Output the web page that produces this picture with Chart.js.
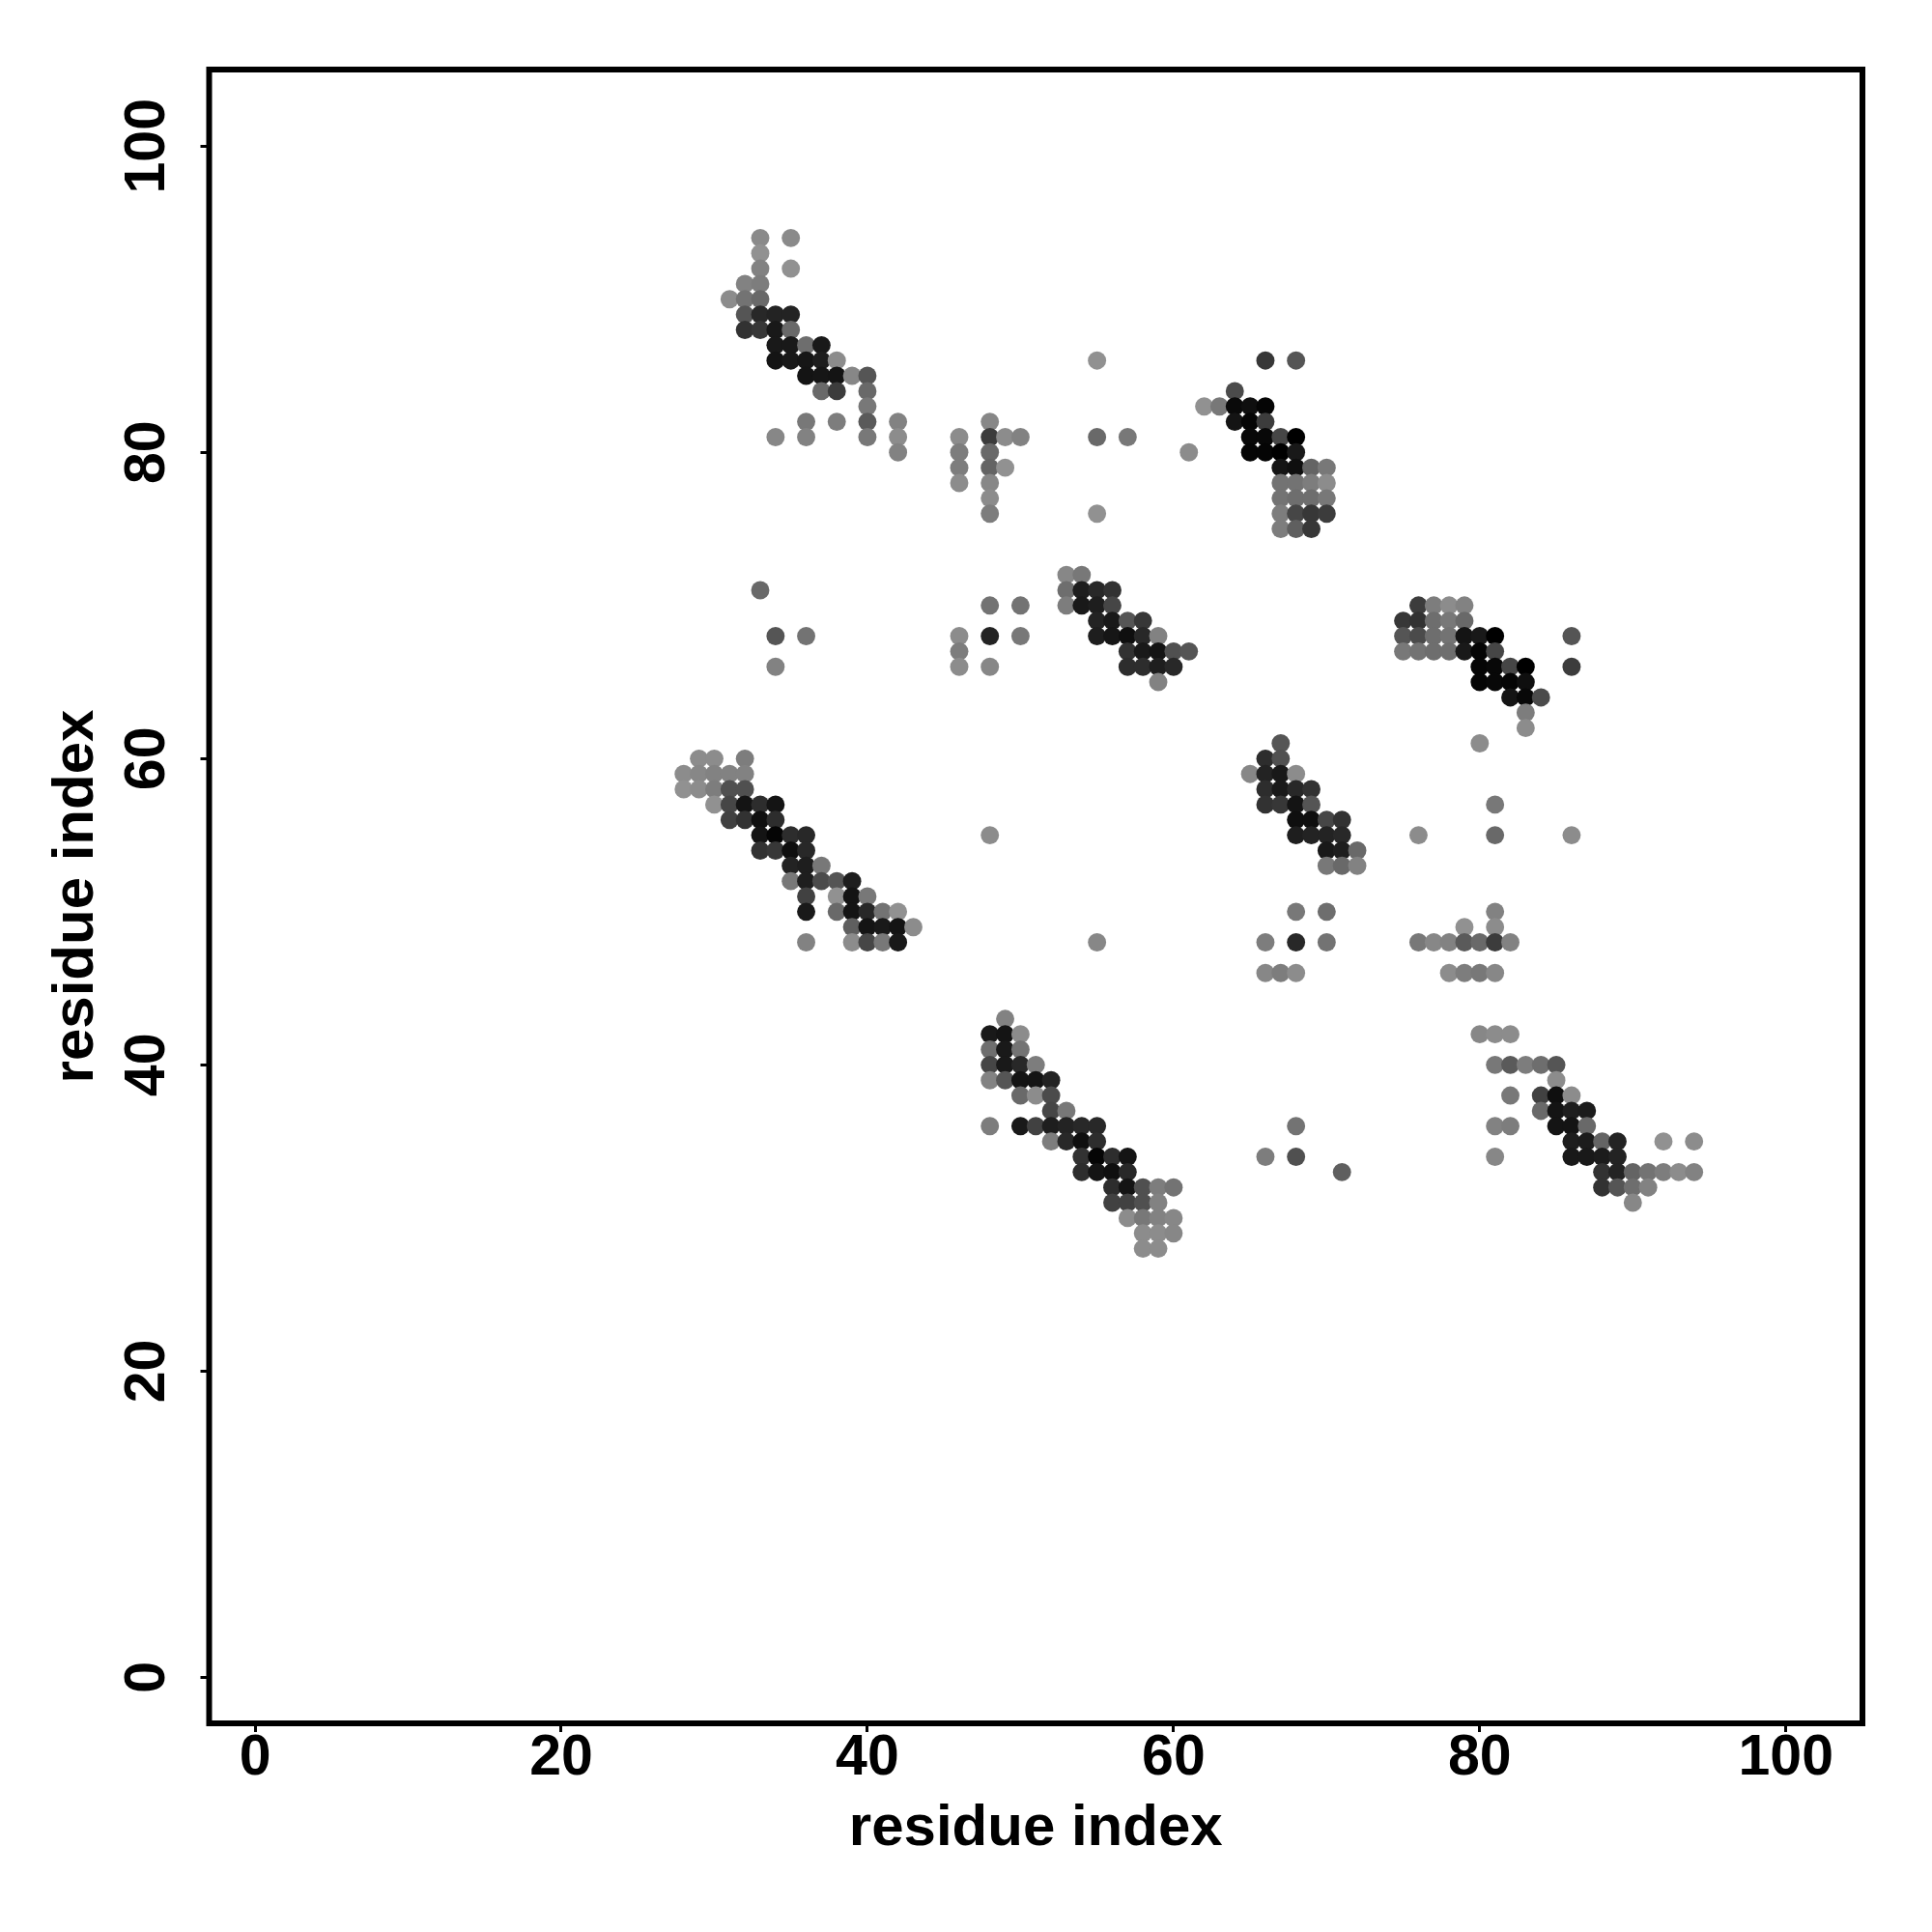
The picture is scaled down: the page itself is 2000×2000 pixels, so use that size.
<!DOCTYPE html>
<html>
<head>
<meta charset="utf-8">
<style>html,body{margin:0;padding:0;background:#fff}canvas{display:block}</style>
<script src="https://cdn.jsdelivr.net/npm/chart.js@4"></script>
</head>
<body>
<canvas id="c" width="2000" height="2000"></canvas>
<script>
const tickValues = [0,20,40,60,80,100];
const axisTitle = "residue index";
const rowY = [94,93,92,91,90,89,88,87,86,85,84,83,82,81,80,79,78,77,76,75,72,71,70,69,68,67,66,65,64,63,62,61,60,59,58,57,56,55,54,53,52,51,50,49,48,46,43,42,41,40,39,38,37,36,35,34,33,32,31,30,29,28];
const rowX = [
[33,35],[33],[33,35],[32,33],[31,32,33],[32,33,34,35],[32,33,34,35],[34,35,36,37],
[34,35,36,37,38,55,66,68],[36,37,38,39,40],[37,38,40,64],[40,62,63,64,65,66],
[36,38,40,42,48,64,65,66],[34,36,40,42,46,48,49,50,55,57,65,66,67,68],[42,46,48,61,65,66,67,68],
[46,48,49,67,68,69,70],[46,48,67,68,69,70],[48,67,68,69,70],[48,55,67,68,69,70],[67,68,69],
[53,54],[33,53,54,55,56],[48,50,53,54,55,56,76,77,78,79],[55,56,57,58,75,76,77,78,79],
[34,36,46,48,50,55,56,57,58,59,75,76,77,78,79,80,81,86],[46,57,58,59,60,61,75,76,77,78,79,80,81],
[34,46,48,57,58,59,60,80,81,82,83,86],[59,80,81,82,83],[82,83,84],[83],[83],[67,80],
[29,30,32,66,67],[28,29,30,31,32,65,66,67,68],[28,29,30,31,32,66,67,68,69],
[30,31,32,33,34,66,67,68,69,81],[31,32,33,34,68,69,70,71],[33,34,35,36,48,68,69,70,71,76,81,86],
[33,34,35,36,70,71,72],[35,36,37,70,71,72],[35,36,37,38,39],[36,38,39,40],[36,38,39,40,41,42,68,70,81],
[39,40,41,42,43,79,81],[36,39,40,41,42,55,66,68,70,76,77,78,79,80,81,82],[66,67,68,78,79,80,81],
[49],[48,49,50,80,81,82],[48,49,50],[48,49,50,51,81,82,83,84,85],[48,49,50,51,52,85],
[50,51,52,82,84,85,86],[52,53,84,85,86,87],[48,50,51,52,53,54,55,68,81,82,85,86,87],
[52,53,54,55,86,87,88,89,92,94],[54,55,56,57,66,68,81,86,87,88,89],
[54,55,56,57,71,88,89,90,91,92,93,94],[56,57,58,59,60,88,89,90,91],[56,57,58,59,90],
[57,58,59,60],[58,59,60],[58,59]
];
const rowShade = [
[138,138],[145],[130,145],[130,125],[140,115,105],[85,40,35,35],[50,55,25,105],[25,25,110,25],
[20,25,22,30,140,145,55,85],[20,22,20,135,85],[105,60,105,75],[120,145,120,10,15,5],
[120,125,90,130,135,20,5,60],[135,130,120,140,140,60,140,130,105,120,8,8,70,0],[130,125,105,140,5,5,0,25],
[125,100,145,20,15,100,120],[140,135,115,115,125,140],[140,115,110,110,120],[125,145,125,70,55,60],[125,95,55],
[135,120],[105,110,30,40,50],[115,115,125,25,30,70,60,125,140,130],[35,25,85,55,55,50,110,120,105],
[85,115,140,35,120,30,22,15,40,130,85,75,110,115,20,25,0,85],[125,50,25,20,80,85,120,115,110,110,25,5,70],
[130,140,135,45,45,30,40,5,8,70,0,60],[130,5,8,5,15],[20,8,75],[125],[140],[85,140],
[140,140,125,45,80],[140,135,130,130,130,135,35,25,140],[145,140,125,80,80,45,25,40,50],
[145,70,20,45,20,50,55,20,85,120],[65,50,15,45,15,15,70,50],[20,5,45,40,140,30,35,35,40,140,105,140],
[50,55,15,40,25,30,105],[35,30,120,120,105,130],[120,30,75,85,30],[65,145,20,120],[25,105,20,40,115,145,120,110,130],
[95,20,25,20,140,145,140],[130,140,70,120,25,135,125,40,115,120,135,130,90,105,60,130],[135,125,140,140,125,120,135],
[130],[25,20,140,135,140,140],[110,25,115],[70,25,40,125,120,90,125,110,85],[130,85,20,20,35,140],
[105,140,75,120,65,15,140],[70,120,105,20,30,28],[125,25,65,30,35,40,40,115,130,125,20,20,105],
[125,40,15,45,30,28,100,35,145,140],[50,5,45,20,125,80,135,25,25,28,35],
[45,20,15,40,95,50,35,100,115,125,140,130],[45,20,80,125,115,50,85,110,130],[65,65,80,130,135],
[140,120,130,135],[140,140,135],[140,140]
];

const points = rowY.flatMap((y,i)=>rowX[i].map(x=>({x,y})));
const colors = rowShade.flat().map(g=>`rgb(${g},${g},${g})`);

const FAMILY = "'Liberation Sans', Arial, sans-serif";
const TICK_FONT = {family:FAMILY, size:59, weight:"bold", lineHeight:1};
const TITLE_FONT = {family:FAMILY, size:60, weight:"bold", lineHeight:1};
const framePlugin = {
  id:"frame",
  afterDraw(chart){
    const a = chart.chartArea, c = chart.ctx;
    c.save(); c.strokeStyle="#000"; c.lineWidth=6; c.lineJoin="miter";
    c.strokeRect(a.left,a.top,a.right-a.left,a.bottom-a.top);
    c.restore();
  }
};
const setTicks = s => { s.ticks = tickValues.map(v=>({value:v})); };
const grid = {display:true, drawOnChartArea:false, drawTicks:true, tickLength:9, tickWidth:3, tickColor:"#000", color:"#000", lineWidth:3};

new Chart(document.getElementById("c"),{
  type:"scatter",
  data:{datasets:[{data:points, backgroundColor:colors, borderWidth:0, pointRadius:9.45, pointHoverRadius:9.45}]},
  plugins:[framePlugin],
  options:{
    responsive:false, animation:false, events:[],
    layout:{padding:{top:72,right:72,left:0,bottom:0}},
    plugins:{legend:{display:false},tooltip:{enabled:false}},
    scales:{
      x:{type:"linear",min:-3,max:105,afterBuildTicks:setTicks,
        afterFit(s){s.height=216;},
        grid,border:{display:false},
        ticks:{color:"#000",font:TICK_FONT,padding:-1.5,maxRotation:0,autoSkip:false,callback:v=>String(v)},
        title:{display:true,text:axisTitle,color:"#000",font:TITLE_FONT,padding:{top:0,bottom:76.5}}},
      y:{type:"linear",min:-3,max:105,afterBuildTicks:setTicks,
        afterFit(s){s.width=216.5;},
        grid,border:{display:false},
        ticks:{color:"#000",font:TICK_FONT,padding:4.3,minRotation:90,maxRotation:90,crossAlign:"center",autoSkip:false,callback:v=>String(v)},
        title:{display:true,text:axisTitle,color:"#000",font:TITLE_FONT,padding:{top:49.5,bottom:0}}}
    }
  }
});
</script>
</body>
</html>
